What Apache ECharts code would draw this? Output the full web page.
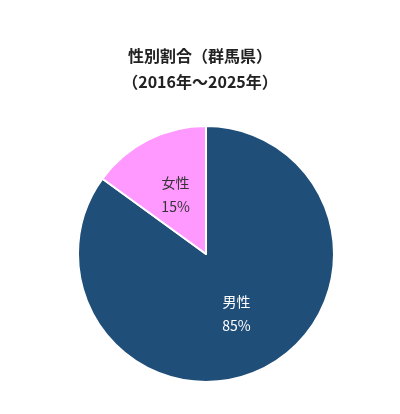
<!DOCTYPE html>
<html lang="ja">
<head>
    <meta charset="UTF-8">
    <title>性別割合</title>
    <script src="https://cdn.jsdelivr.net/npm/echarts@6/dist/echarts.min.js"></script>
    <style>
        body { margin: 0; background: #fff; }
        #chart { width: 400px; height: 414px; }
    </style>
</head>
<body>
    <div id="chart"></div>
    <script>
        var names = ['男性', '女性'];
        var values = [85, 15];
        var colors = ['#1f4e79', '#ff99ff'];
        var labelColors = ['#ffffff', '#333333'];

        var chart = echarts.init(document.getElementById('chart'));
        chart.setOption({
            title: {
                text: '性別割合（群馬県）\n（2016年～2025年）',
                left: 'center',
                top: 38,
                textStyle: {
                    fontFamily: 'Noto Sans CJK JP',
                    fontSize: 16,
                    fontWeight: 'bold',
                    color: '#222',
                    lineHeight: 26
                }
            },
            series: [{
                type: 'pie',
                center: [206, 254],
                radius: 128,
                startAngle: 90,
                silent: true,
                itemStyle: { borderColor: '#fff', borderWidth: 2 },
                label: {
                    position: 'inside',
                    fontFamily: 'Noto Sans CJK JP',
                    fontSize: 14,
                    lineHeight: 24,
                    formatter: function (p) { return p.name + '\n' + p.value + '%'; }
                },
                data: names.map(function (n, i) {
                    return {
                        name: n,
                        value: values[i],
                        itemStyle: { color: colors[i] },
                        label: { color: labelColors[i] }
                    };
                })
            }]
        });
    </script>
</body>
</html>
